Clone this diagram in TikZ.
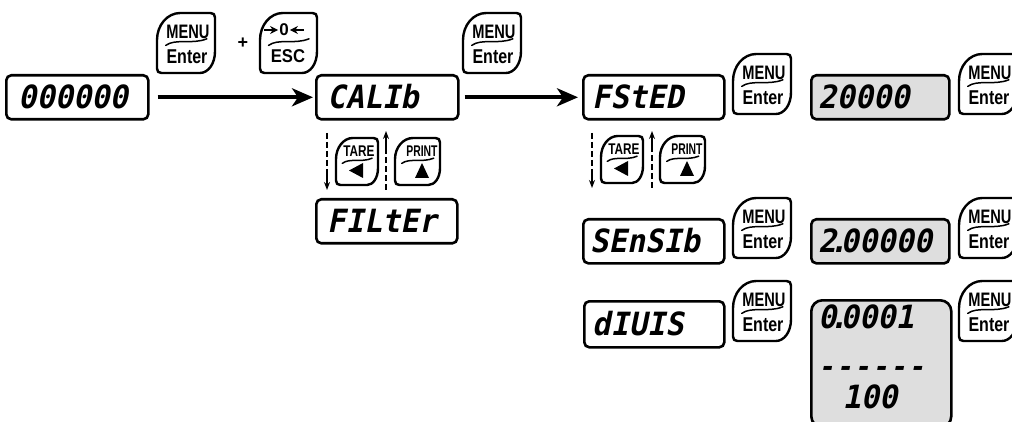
\documentclass[tikz,border=0pt]{standalone}
\usepackage{fontspec}
\setmainfont{Liberation Sans}
\newfontfamily\segfont{DejaVu Sans Mono}[FakeSlant=0.2,FakeStretch=0.95]
\usetikzlibrary{arrows.meta,calc}

% decimal point that takes almost no cell on the display
\newcommand\dpt{\kern-0.22em.\kern-0.22em}

\tikzset{
  lcd/.style={draw, line width=2.6pt, rounded corners=5pt, anchor=north west,
    minimum height=44pt, inner sep=0pt},
  lcdset/.style={lcd, fill=black!13},
  seg/.style={anchor=west, inner sep=0pt, text height=23pt, text depth=0pt,
    font=\segfont\bfseries\fontsize{32}{32}\selectfont},
  segdash/.style={anchor=base west, inner sep=0pt, text height=10pt, text depth=0pt,
    font=\segfont\bfseries\fontsize{28}{28}\selectfont},
  keyline/.style={draw, line width=2.4pt, line join=round},
  swoosh/.style={draw, line width=1.5pt, line cap=round},
  menutxt/.style={inner sep=0pt, font=\bfseries\fontsize{19.5}{19.5}\selectfont},
  entertxt/.style={inner sep=0pt, font=\bfseries\fontsize{20}{20}\selectfont},
  smalltxt/.style={inner sep=0pt, font=\bfseries\fontsize{15.5}{15.5}\selectfont},
  bigarrow/.style={line width=3.6pt, -{Stealth[length=21pt,width=18pt,inset=6pt]}},
  dashline/.style={line width=1.7pt, dash pattern=on 6pt off 3pt},
  tipline/.style={line width=1.7pt, -{Stealth[length=8pt,width=6pt]}},
  minitip/.style={line width=2.2pt, -{Stealth[length=8pt,width=8pt]}},
  pics/keycap/.style args={#1/#2}{code={
    \draw[keyline] (0.4*#1,0) -- (#1-4.5,0) .. controls (#1-1.5,0) and (#1,1.5) .. (#1,4.5)
      -- (#1,0.64*#2) .. controls (#1,0.85*#2) and (0.88*#1,#2) .. (0.74*#1,#2)
      -- (4.5,#2) .. controls (1.5,#2) and (0,#2-1.5) .. (0,#2-4.5)
      -- (0,0.45*#2) .. controls (0,0.2*#2) and (0.18*#1,0) .. (0.4*#1,0) -- cycle;
    \draw[swoosh] (0.15*#1,0.54*#2) .. controls (0.32*#1,0.42*#2) and (0.6*#1,0.53*#2) .. (0.86*#1,0.43*#2);
  }},
}

% MENU/Enter key with its top-left corner at (#2,#3)
\newcommand\menukey[3]{%
  \pic (#1) at (#2,#3) {keycap=58/60};
  \node[menutxt] (#1m) at (#2+31,#3+19) {\scalebox{0.75}[1]{MENU}};
  \node[entertxt] (#1e) at (#2+30,#3+44) {\scalebox{0.8}[1]{Enter}};
}
% TARE key and PRINT key side by side, group starting at (#2,#3)
\newcommand\arrowkeys[3]{%
  \pic (#1t) at (#2,#3) {keycap=42/47};
  \node[smalltxt] (#1tt) at (#2+23,#3+13) {\scalebox{0.76}[1]{TARE}};
  \fill (#2+13,#3+32.5) -- (#2+27,#3+25) -- (#2+27,#3+40) -- cycle;
  \pic (#1p) at (#2+59,#3) {keycap=45/47};
  \node[smalltxt] (#1pt) at (#2+86,#3+13) {\scalebox{0.67}[1]{PRINT}};
  \fill (#2+79,#3+40) -- (#2+93,#3+40) -- (#2+86,#3+25) -- cycle;
}

\begin{document}
\begin{tikzpicture}[x=1pt,y=-1pt]
\useasboundingbox (0,0) rectangle (1012,422);

% displays
\node[lcd, minimum width=142pt] (d0) at (5,74) {};
\node[seg] (t0) at ([xshift=13pt]d0.west) {000000};
\node[lcd, minimum width=142pt] (d1) at (315,74) {};
\node[seg] (t1) at ([xshift=12pt]d1.west) {CALIb};
\node[lcd, minimum width=141pt] (d2) at (582,74) {};
\node[seg] (t2) at ([xshift=10pt]d2.west) {FStED};
\node[lcdset, minimum width=138pt] (d3) at (810,74) {};
\node[seg] (t3) at ([xshift=8pt]d3.west) {20000};
\node[lcd, minimum width=141pt] (d4) at (315,198) {};
\node[seg] (t4) at ([xshift=12pt]d4.west) {FILtEr};
\node[lcd, minimum width=141pt] (d5) at (582,218) {};
\node[seg] (t5) at ([xshift=8pt]d5.west) {SEnSIb};
\node[lcdset, minimum width=138pt] (d6) at (810,218) {};
\node[seg] (t6) at ([xshift=8pt]d6.west) {2\dpt00000};
\node[lcd, minimum width=140pt, minimum height=46pt] (d7) at (583,300) {};
\node[seg] (t7) at ([xshift=9pt]d7.west) {dIUIS};
\node[lcdset, rounded corners=11pt, minimum width=140pt, minimum height=127pt] (d8) at (810,299) {};
\node[seg] (t8a) at (818,317) {0\dpt0001};
\node[segdash] (t8b) at (818,376.5) {-\kern2pt-\kern2pt-\kern2pt-\kern2pt-\kern2pt-};
\node[seg, anchor=center] (t8c) at (870,397) {100};

% keys
\menukey{k1}{157}{13}
\node[inner sep=0pt, font=\bfseries\fontsize{18}{18}\selectfont] (plus) at (243,43) {+};
\pic (k2) at (260,13) {keycap=57/60};
\node[inner sep=0pt, font=\bfseries\fontsize{17}{17}\selectfont] (k2z) at (284,30) {0};
\coordinate (k2l) at (264,30);
\coordinate (k2r) at (304,30);
\draw[minitip] (k2l) -- ([xshift=-1pt]k2z.west);
\draw[minitip] (k2r) -- ([xshift=1pt]k2z.east);
\node[inner sep=0pt, font=\bfseries\fontsize{18.5}{18.5}\selectfont] (k2e) at (288,56) {\scalebox{0.9}[1]{ESC}};
\menukey{k3}{463}{13}
\menukey{k4}{733}{54}
\menukey{k5}{959}{54}
\menukey{k6}{733}{198}
\menukey{k7}{959}{198}
\menukey{k8}{733}{281}
\menukey{k9}{959}{281}
\arrowkeys{g1}{336}{138}
\arrowkeys{g2}{601}{136}

% main flow
\draw[bigarrow, shorten <=8pt, shorten >=2pt] (d0.east) -- (d1.west);
\draw[bigarrow, shorten <=5pt, shorten >=4pt] (d1.east) -- (d2.west);

% up/down scrolling between menu items
\coordinate (a1s) at (327,133); \coordinate (a1e) at (327,190);
\draw[dashline] (a1s) -- ($(a1s)!0.7!(a1e)$);
\draw[tipline] ($(a1s)!0.7!(a1e)$) -- (a1e);
\coordinate (b1s) at (386,190); \coordinate (b1e) at (386,131);
\draw[dashline] (b1s) -- ($(b1s)!0.7!(b1e)$);
\draw[tipline] ($(b1s)!0.7!(b1e)$) -- (b1e);
\coordinate (a2s) at (592,133); \coordinate (a2e) at (592,188);
\draw[dashline] (a2s) -- ($(a2s)!0.7!(a2e)$);
\draw[tipline] ($(a2s)!0.7!(a2e)$) -- (a2e);
\coordinate (b2s) at (652,188); \coordinate (b2e) at (652,131);
\draw[dashline] (b2s) -- ($(b2s)!0.7!(b2e)$);
\draw[tipline] ($(b2s)!0.7!(b2e)$) -- (b2e);
\end{tikzpicture}
\end{document}
